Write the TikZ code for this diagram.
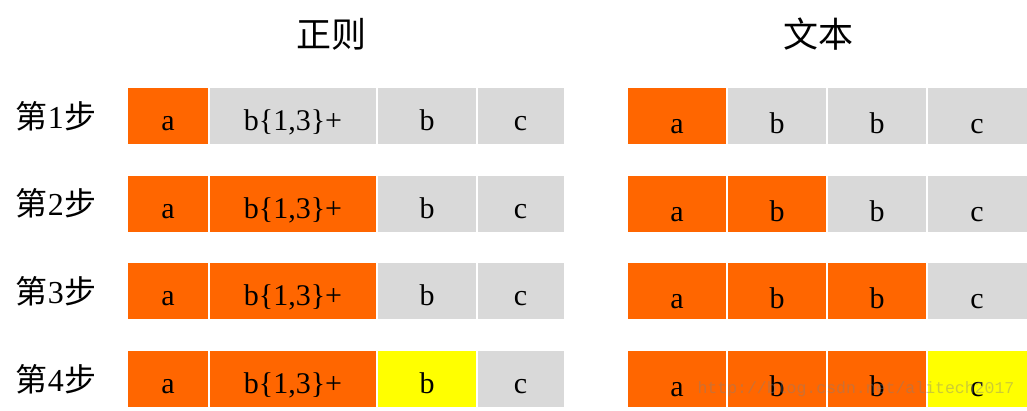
\documentclass[tikz,border=0pt]{standalone}
\usepackage{fontspec}
\setmainfont{Liberation Serif}
\newfontfamily\cjk{Noto Sans CJK SC}
\newfontfamily\wmfont{Liberation Mono}
\definecolor{orng}{HTML}{FF6600}
\definecolor{lgray}{HTML}{D9D9D9}
\definecolor{yel}{HTML}{FFFF00}
\begin{document}
\begin{tikzpicture}[x=1pt,y=-1pt,
  txt/.style={font=\fontsize{30}{30}\selectfont, inner sep=0pt, anchor=base},
  lbl/.style={font=\fontsize{32}{32}\selectfont, inner sep=0pt},
  ttl/.style={font=\cjk\fontsize{35}{35}\selectfont, inner sep=0pt}]
\useasboundingbox (0,0) rectangle (1027,410);
% titles
\node[ttl] (t1) at (331,34) {正则};
\node[ttl] (t2) at (818,34) {文本};
% row labels
\foreach \r/\yt/\yb in {1/88/144,2/176/231.5,3/263/319,4/351/407}{
  \node[lbl] (lab\r) at (56,{(\yt+\yb)/2}) {{\cjk 第}\r{\cjk 步}};
}
% left table colours per row: a, b{1,3}+, b, c
\foreach \r/\yt/\yb/\ca/\cb/\cc/\cd in {
  1/88/144/orng/lgray/lgray/lgray,
  2/176/231.5/orng/orng/lgray/lgray,
  3/263/319/orng/orng/lgray/lgray,
  4/351/407/orng/orng/yel/lgray}{
  \fill[\ca] (128,\yt) rectangle (208,\yb);
  \fill[\cb] (210,\yt) rectangle (376,\yb);
  \fill[\cc] (378,\yt) rectangle (476,\yb);
  \fill[\cd] (478,\yt) rectangle (563.5,\yb);
  \node[txt] (la\r) at (168,\yt+42) {a};
  \node[txt] (lb\r) at (293,\yt+42) {b\{1,3\}+};
  \node[txt] (lc\r) at (427,\yt+42) {b};
  \node[txt] (ld\r) at (520.5,\yt+42) {c};
}
% right table
\foreach \r/\yt/\yb/\ca/\cb/\cc/\cd in {
  1/88/144/orng/lgray/lgray/lgray,
  2/176/231.5/orng/orng/lgray/lgray,
  3/263/319/orng/orng/orng/lgray,
  4/351/407/orng/orng/orng/yel}{
  \fill[\ca] (628,\yt) rectangle (726,\yb);
  \fill[\cb] (728,\yt) rectangle (826,\yb);
  \fill[\cc] (828,\yt) rectangle (926,\yb);
  \fill[\cd] (928,\yt) rectangle (1027,\yb);
  \node[txt] (ra\r) at (677,\yt+45) {a};
  \node[txt] (rb\r) at (777,\yt+45) {b};
  \node[txt] (rc\r) at (877,\yt+45) {b};
  \node[txt] (rd\r) at (977,\yt+45) {c};
}
% watermark
\node[font=\wmfont\fontsize{16.5}{16.5}\selectfont, text=gray, opacity=0.4, inner sep=0pt] (wm) at (856,389) {http://blog.csdn.net/alitech2017};
\end{tikzpicture}
\end{document}
